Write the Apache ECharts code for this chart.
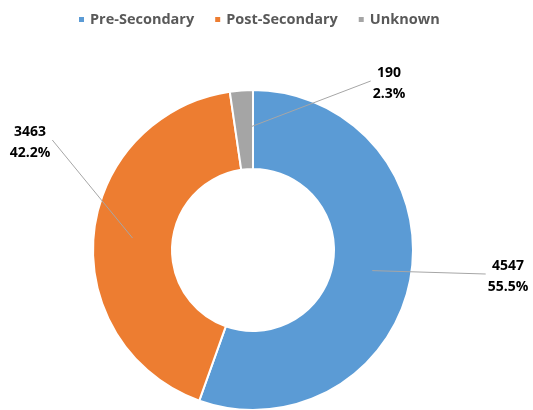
<!DOCTYPE html>
<html>
<head>
<meta charset="utf-8">
<script src="https://cdn.jsdelivr.net/npm/echarts@6/dist/echarts.min.js"></script>
<style>
  html, body { margin: 0; padding: 0; background: #fff; }
  #chart { width: 533px; height: 410px; }
</style>
</head>
<body>
<div id="chart"></div>
<script>
const categories = ["Pre-Secondary", "Post-Secondary", "Unknown"];
const counts = [4547, 3463, 190];
const colors = ["#5B9BD5", "#ED7D31", "#A5A5A5"];
// where each data label sits (center x, y of label box) and which side the leader line meets
const labelSpots = [[508, 277], [30, 143], [389, 84]];
const labelSides = ["left", "right", "left"];

const total = counts.reduce((a, b) => a + b, 0);
const pieData = categories.map((name, i) => ({ name: name, value: counts[i] }));

const center = [253, 250];
const midRadius = 121;

// mid angle of each slice (clockwise from top), from the data
function midPoint(i) {
  let before = 0;
  for (let k = 0; k < i; k++) before += counts[k];
  let share = (before + counts[i] / 2) / total;
  let ang = share * 2 * Math.PI;
  return [center[0] + midRadius * Math.sin(ang), center[1] - midRadius * Math.cos(ang)];
}

let myChart = echarts.init(document.getElementById("chart"));
let option = {
  animation: false,
  color: colors,
  legend: {
    top: 7,
    left: 72,
    icon: "rect",
    itemWidth: 7,
    itemHeight: 7,
    itemGap: 19,
    textStyle: {
      color: "#595959",
      fontWeight: "bold",
      fontSize: 14.5,
      fontFamily: "Open Sans",
    },
    data: categories,
  },
  series: [
    {
      type: "pie",
      z: 2,
      center: center,
      radius: [81, 160],
      startAngle: 90,
      clockwise: true,
      label: { show: false },
      labelLine: { show: false },
      itemStyle: { borderColor: "#fff", borderWidth: 2 },
      data: pieData,
    },
    {
      // invisible helper series that carries the labels and leader lines
      type: "pie",
      z: 5,
      center: center,
      radius: [0, midRadius],
      startAngle: 90,
      clockwise: true,
      silent: true,
      legendHoverLink: false,
      itemStyle: { color: "rgba(0,0,0,0)" },
      label: {
        show: true,
        position: "outside",
        formatter: (p) => p.value + "\n" + ((p.value / total) * 100).toFixed(1) + "%",
        color: "#000",
        fontWeight: "bold",
        fontSize: 14,
        lineHeight: 21,
        fontFamily: "Open Sans",
        align: "center",
      },
      labelLine: {
        show: true,
        length: 10,
        length2: 0,
        lineStyle: { color: "#A6A6A6", width: 1 },
      },
      labelLayout: (params) => {
        let i = params.dataIndex;
        let spot = labelSpots[i];
        let halfW = params.labelRect.width / 2;
        let endX = labelSides[i] === "left" ? spot[0] - halfW - 2 : spot[0] + halfW + 2;
        let start = midPoint(i);
        return {
          x: spot[0],
          y: spot[1],
          align: "center",
          verticalAlign: "middle",
          labelLinePoints: [start, start, [endX, spot[1] - 3]],
        };
      },
      data: pieData,
    },
  ],
};
myChart.setOption(option);
</script>
</body>
</html>
